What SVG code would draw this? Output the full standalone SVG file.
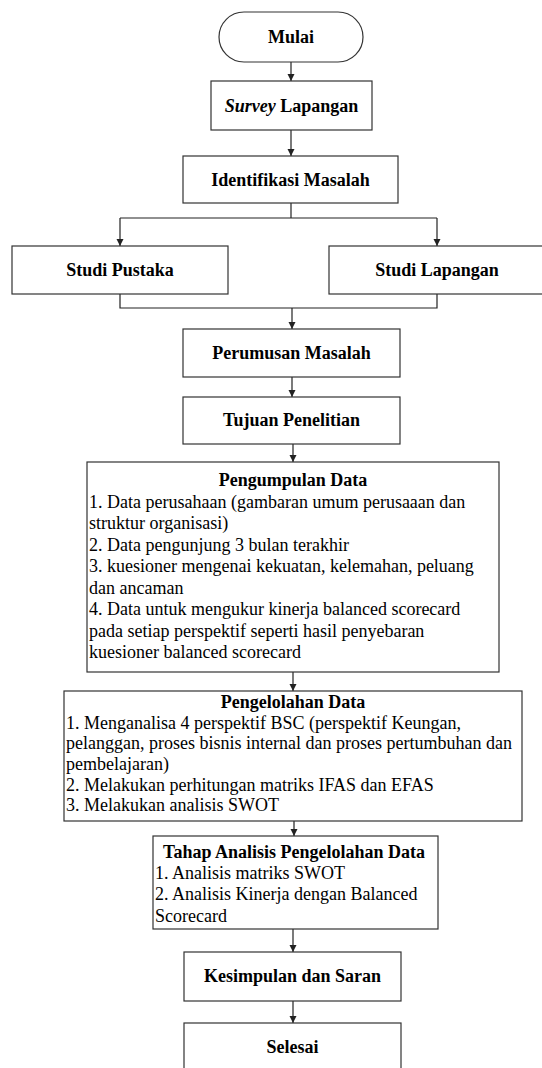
<svg xmlns="http://www.w3.org/2000/svg" width="542" height="1068" viewBox="0 0 542 1068">
<style>
.box{fill:#fff;stroke:#333;stroke-width:1.2}
.ln{fill:none;stroke:#222;stroke-width:1.2}
text{font-family:'Liberation Serif','Times New Roman',Times,'DejaVu Serif',serif;font-size:18px;fill:#000}
.b{font-weight:bold}
.c{text-anchor:middle}
</style>
<defs>
<marker id="ah" markerUnits="userSpaceOnUse" markerWidth="8" markerHeight="8" refX="7" refY="3.5" orient="auto">
<path d="M0,0 L7,3.5 L0,7 z" fill="#222"/>
</marker>
</defs>
<rect width="542" height="1068" fill="#fff"/>
<g id="connectors">
<line class="ln" x1="291" y1="62" x2="291" y2="81" marker-end="url(#ah)"/>
<line class="ln" x1="291" y1="130" x2="291" y2="156" marker-end="url(#ah)"/>
<polyline class="ln" points="291,203 291,218"/>
<polyline class="ln" points="120,218 437,218"/>
<line class="ln" x1="120" y1="218" x2="120" y2="246" marker-end="url(#ah)"/>
<line class="ln" x1="437" y1="218" x2="437" y2="246" marker-end="url(#ah)"/>
<polyline class="ln" points="120,294 120,308 437,308 437,294"/>
<line class="ln" x1="292" y1="308" x2="292" y2="329" marker-end="url(#ah)"/>
<line class="ln" x1="292" y1="377" x2="292" y2="397" marker-end="url(#ah)"/>
<line class="ln" x1="293" y1="444" x2="293" y2="462" marker-end="url(#ah)"/>
<line class="ln" x1="293" y1="672" x2="293" y2="691" marker-end="url(#ah)"/>
<line class="ln" x1="294" y1="821" x2="294" y2="836" marker-end="url(#ah)"/>
<line class="ln" x1="293" y1="929" x2="293" y2="952" marker-end="url(#ah)"/>
<line class="ln" x1="293" y1="1001" x2="293" y2="1023" marker-end="url(#ah)"/>
</g>
<g id="mulai">
<rect class="box" x="219" y="12" width="144" height="50" rx="25" ry="25"/>
<text class="b c" x="291" y="43" font-family="Liberation Serif, serif">Mulai</text>
</g>
<g id="survey">
<rect class="box" x="211" y="81" width="161" height="49"/>
<text class="b c" x="291.5" y="111.5"><tspan font-style="italic">Survey</tspan> Lapangan</text>
</g>
<g id="identifikasi">
<rect class="box" x="183" y="156" width="215" height="47"/>
<text class="b c" x="290.5" y="185.5">Identifikasi Masalah</text>
</g>
<g id="studi-pustaka">
<rect class="box" x="12" y="246" width="216" height="48"/>
<text class="b c" x="120" y="276">Studi Pustaka</text>
</g>
<g id="studi-lapangan">
<rect class="box" x="329" y="246" width="216" height="48"/>
<text class="b c" x="437" y="276">Studi Lapangan</text>
</g>
<g id="perumusan">
<rect class="box" x="183" y="329" width="217" height="48"/>
<text class="b c" x="291.5" y="359">Perumusan Masalah</text>
</g>
<g id="tujuan">
<rect class="box" x="183" y="397" width="217" height="47"/>
<text class="b c" x="291.5" y="426">Tujuan Penelitian</text>
</g>
<g id="pengumpulan">
<rect class="box" x="87" y="462" width="412" height="210"/>
<text class="b c" x="293" y="486">Pengumpulan Data</text>
<text x="89" y="507.5">1. Data perusahaan (gambaran umum perusaaan dan</text>
<text x="89" y="529">struktur organisasi)</text>
<text x="89" y="550.5">2. Data pengunjung 3 bulan terakhir</text>
<text x="89" y="572">3. kuesioner mengenai kekuatan, kelemahan, peluang</text>
<text x="89" y="593.5">dan ancaman</text>
<text x="89" y="615">4. Data untuk mengukur kinerja balanced scorecard</text>
<text x="89" y="636.5">pada setiap perspektif seperti hasil penyebaran</text>
<text x="89" y="658">kuesioner balanced scorecard</text>
</g>
<g id="pengelolahan">
<rect class="box" x="64" y="691" width="458" height="130"/>
<text class="b c" x="293" y="708">Pengelolahan Data</text>
<text x="66" y="728.5">1. Menganalisa 4 perspektif BSC (perspektif Keungan,</text>
<text x="66" y="749">pelanggan, proses bisnis internal dan proses pertumbuhan dan</text>
<text x="66" y="770">pembelajaran)</text>
<text x="66" y="790.5">2. Melakukan perhitungan matriks IFAS dan EFAS</text>
<text x="66" y="811">3. Melakukan analisis SWOT</text>
</g>
<g id="tahap">
<rect class="box" x="153" y="836" width="285" height="93"/>
<text class="b c" x="294" y="858">Tahap Analisis Pengelolahan Data</text>
<text x="155" y="879">1. Analisis matriks SWOT</text>
<text x="155" y="900">2. Analisis Kinerja dengan Balanced</text>
<text x="155" y="921.5">Scorecard</text>
</g>
<g id="kesimpulan">
<rect class="box" x="184" y="952" width="217" height="49"/>
<text class="b c" x="292.5" y="981.5">Kesimpulan dan Saran</text>
</g>
<g id="selesai">
<rect class="box" x="184" y="1023" width="217" height="49"/>
<text class="b c" x="292.5" y="1053">Selesai</text>
</g>
</svg>
